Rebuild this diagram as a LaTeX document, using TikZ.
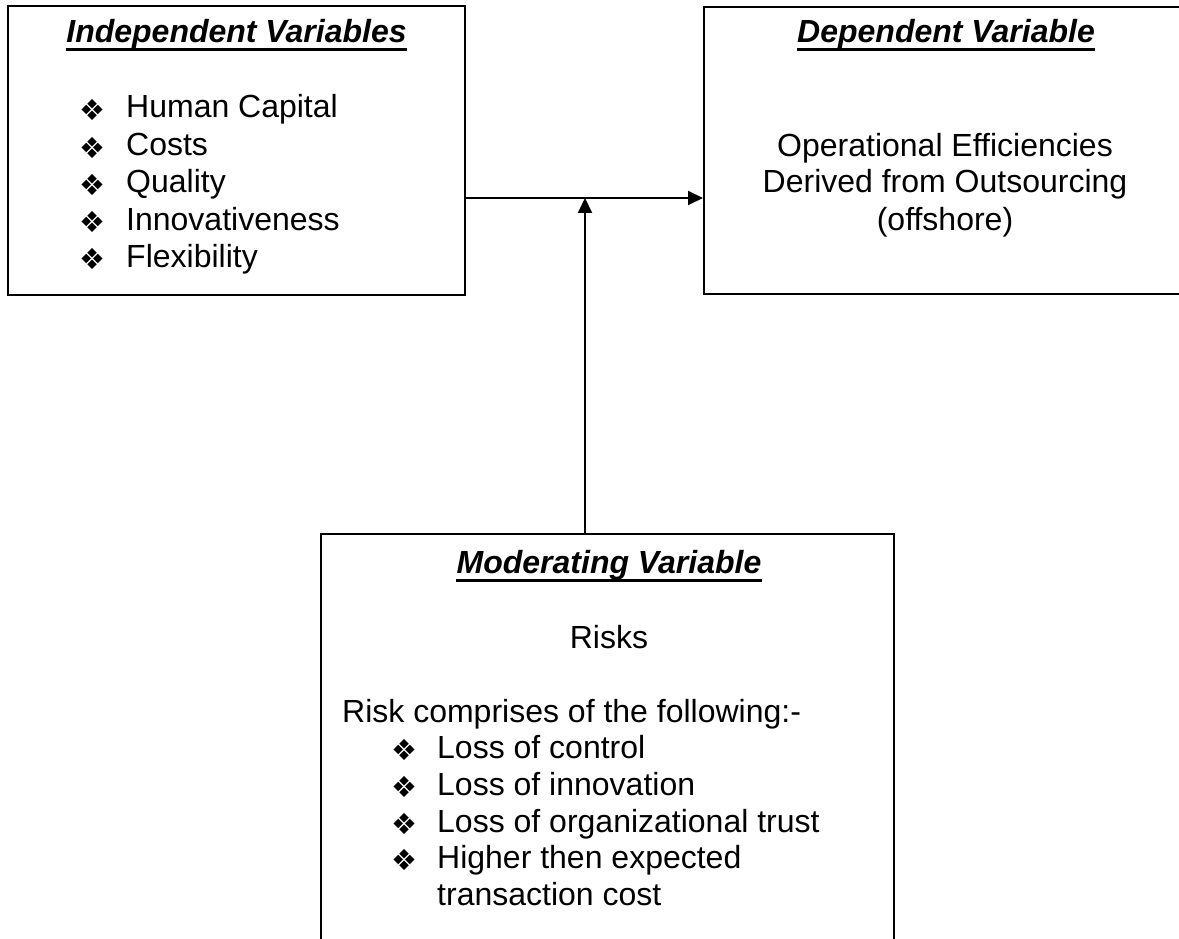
\documentclass[tikz,border=0pt]{standalone}
\usepackage{fontspec}
\setmainfont{Liberation Sans}
\newfontfamily\symfont{DejaVu Sans}
\usetikzlibrary{arrows.meta}
\tikzset{
  box/.style={draw, line width=2pt, inner sep=0pt},
  txt/.style={inner sep=0pt, font=\fontsize{32}{36.8}\selectfont},
  ttl/.style={inner sep=0pt, font=\fontsize{32}{36.8}\selectfont\bfseries\itshape},
  bul/.style={inner sep=0pt, anchor=center, font=\symfont\fontsize{29}{29}\selectfont},
  arr/.style={line width=2pt, -{Triangle[length=15pt,width=14pt]}},
  uline/.style={line width=3pt}
}
\begin{document}
\begin{tikzpicture}[x=1pt,y=-1pt]
\useasboundingbox (0,0) rectangle (1179,939);
\clip (0,0) rectangle (1179,939);
\fill[white] (0,0) rectangle (1179,939);

% boxes
\node[box, minimum width=457pt, minimum height=288pt] (ind) at (236.5,150.5) {};
\node[box, minimum width=484pt, minimum height=287pt] (dep) at (946,150.5) {};
\node[box, minimum width=573pt, minimum height=440pt] (mod) at (607.5,754) {};

% connectors
\coordinate (j) at (585,198);
\draw[arr] (ind.east |- j) -- (dep.west |- j);
\draw[arr] (mod.north -| j) -- (j);

% independent
\node[ttl, anchor=base] (t1) at (236.5,43) {Independent Variables};
\draw[uline] ([yshift=-7pt]t1.base west) -- ([yshift=-7pt]t1.base east);
\node[bul] (b11) at (92,110) {❖};
\node[txt, anchor=base west] (i1) at (126,118) {Human Capital};
\node[bul] (b12) at (92,148) {❖};
\node[txt, anchor=base west] (i2) at (126,156) {Costs};
\node[bul] (b13) at (92,185) {❖};
\node[txt, anchor=base west] (i3) at (126,193) {Quality};
\node[bul] (b14) at (92,222) {❖};
\node[txt, anchor=base west] (i4) at (126,230) {Innovativeness};
\node[bul] (b15) at (92,259) {❖};
\node[txt, anchor=base west] (i5) at (126,267) {Flexibility};

% dependent
\node[ttl, anchor=base] (t2) at (946,43) {Dependent Variable};
\draw[uline] ([yshift=-7pt]t2.base west) -- ([yshift=-7pt]t2.base east);
\node[txt, anchor=base] (d1) at (945,157) {Operational Efficiencies};
\node[txt, anchor=base] (d2) at (945,193) {Derived from Outsourcing};
\node[txt, anchor=base] (d3) at (945,230) {(offshore)};

% moderating
\node[ttl, anchor=base] (t3) at (609,573) {Moderating Variable};
\draw[uline] ([yshift=-7pt]t3.base west) -- ([yshift=-7pt]t3.base east);
\node[txt, anchor=base] (m0) at (609,648) {Risks};
\node[txt, anchor=base west] (m1) at (342,722) {Risk comprises of the following:-};
\node[bul] (b31) at (404,750) {❖};
\node[txt, anchor=base west] (m2) at (437,758) {Loss of control};
\node[bul] (b32) at (404,787) {❖};
\node[txt, anchor=base west] (m3) at (437,795) {Loss of innovation};
\node[bul] (b33) at (404,824) {❖};
\node[txt, anchor=base west] (m4) at (437,832) {Loss of organizational trust};
\node[bul] (b34) at (404,860) {❖};
\node[txt, anchor=base west] (m5) at (437,868) {Higher then expected};
\node[txt, anchor=base west] (m6) at (437,905) {transaction cost};
\end{tikzpicture}
\end{document}
